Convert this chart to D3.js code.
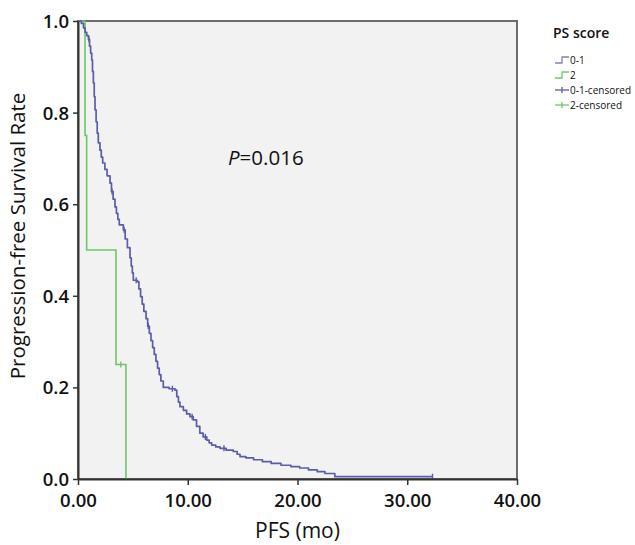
<!DOCTYPE html>
<html><head><meta charset="utf-8">
<script src="https://cdn.jsdelivr.net/npm/d3@7"></script>
<style>body{margin:0;background:#fff}svg{display:block}</style>
</head><body><svg id="c" width="635" height="545"></svg>
<script>
const xTicks = [0, 10, 20, 30, 40];
const yTicks = [0, 0.2, 0.4, 0.6, 0.8, 1.0];
const seriesNames = ["0-1", "2", "0-1-censored", "2-censored"];
// PS 0-1 Kaplan-Meier steps: time (mo), survival
const ps01Time = [0,0.3,0.5,0.65,0.8,0.95,1.05,1.15,1.25,1.32,1.4,1.48,1.55,1.65,1.75,1.85,2.0,2.12,2.25,2.45,2.65,2.92,3.05,3.2,3.37,3.5,3.63,3.76,4.13,4.3,4.5,4.74,4.85,4.95,5.04,5.4,5.55,5.7,5.85,6.0,6.2,6.35,6.5,6.65,6.8,6.95,7.1,7.25,7.4,7.55,7.77,8.3,8.84,9.0,9.15,9.29,9.6,9.9,10.2,10.5,10.8,11.1,11.4,11.73,11.95,12.18,12.55,12.94,13.5,14.15,14.5,14.76,15.3,16.0,16.8,17.6,18.5,19.4,20.2,21.0,21.8,22.5,23.4,32.3];
const ps01Surv = [1.0,0.995,0.985,0.975,0.968,0.96,0.945,0.93,0.915,0.89,0.865,0.835,0.806,0.78,0.755,0.734,0.718,0.703,0.69,0.676,0.662,0.646,0.628,0.611,0.594,0.58,0.567,0.555,0.544,0.524,0.505,0.483,0.465,0.45,0.434,0.431,0.415,0.398,0.382,0.366,0.35,0.334,0.318,0.302,0.287,0.272,0.257,0.242,0.228,0.214,0.2,0.197,0.194,0.18,0.168,0.158,0.15,0.142,0.136,0.129,0.115,0.1,0.092,0.085,0.079,0.074,0.07,0.067,0.063,0.06,0.054,0.049,0.046,0.042,0.038,0.034,0.03,0.027,0.024,0.02,0.016,0.012,0.005,0.005];
const ps01CensTime = [1.0, 3.1, 4.2, 5.3, 6.4, 8.6, 10.4, 11.6, 13.3, 32.3];
// PS 2
const ps2Time = [0, 0.64, 0.79, 3.46, 4.37];
const ps2Surv = [1.0, 0.75, 0.5, 0.25, 0.0];
const ps2CensTime = [3.9];
const pText = "=0.016";

const svg = d3.select("#c");
const M = {l:78, r:517, t:21, b:479};
const x = d3.scaleLinear().domain([0,40]).range([M.l, M.r]);
const y = d3.scaleLinear().domain([0,1]).range([M.b, M.t]);
const blue = "#5b5cae", green = "#6cc86c";
const font = "'Open Sans', 'Noto Sans', sans-serif";

svg.append("rect").attr("x",M.l).attr("y",M.t).attr("width",M.r-M.l).attr("height",M.b-M.t)
  .attr("fill","#f1f2f1").attr("stroke","#706b6b").attr("stroke-width",2);

function survAt(times, surv, t){ let s = surv[0]; for(let i=0;i<times.length;i++){ if(times[i]<=t) s=surv[i]; } return s; }

const line = d3.line().x(d=>x(d[0])).y(d=>y(d[1])).curve(d3.curveStepAfter);
const ps01 = ps01Time.map((t,i)=>[t, ps01Surv[i]]);
const ps2 = ps2Time.map((t,i)=>[t, ps2Surv[i]]);
svg.append("path").datum(ps2).attr("d",line).attr("fill","none").attr("stroke",green).attr("stroke-width",1.6);
svg.append("path").datum(ps01).attr("d",line).attr("fill","none").attr("stroke",blue).attr("stroke-width",1.7).attr("stroke-linejoin","round");

svg.selectAll(".c1").data(ps01CensTime).join("line")
  .attr("x1",d=>x(d)).attr("x2",d=>x(d))
  .attr("y1",d=>y(survAt(ps01Time,ps01Surv,d))-3).attr("y2",d=>y(survAt(ps01Time,ps01Surv,d))+3)
  .attr("stroke",blue).attr("stroke-width",1.4);
svg.selectAll(".c2").data(ps2CensTime).join("line")
  .attr("x1",d=>x(d)).attr("x2",d=>x(d))
  .attr("y1",d=>y(survAt(ps2Time,ps2Surv,d))-3).attr("y2",d=>y(survAt(ps2Time,ps2Surv,d))+3)
  .attr("stroke",green).attr("stroke-width",1.4);

// axes
const xa = svg.append("g").attr("transform",`translate(0,${M.b})`)
  .call(d3.axisBottom(x).tickValues(xTicks).tickFormat(d3.format(".2f")).tickSize(6).tickSizeOuter(0));
const ya = svg.append("g").attr("transform",`translate(${M.l},0)`)
  .call(d3.axisLeft(y).tickValues(yTicks).tickFormat(d3.format(".1f")).tickSize(5).tickSizeOuter(0));
[xa,ya].forEach(g=>{
  g.select(".domain").attr("stroke","#333").attr("stroke-width",2);
  g.selectAll(".tick line").attr("stroke","#333").attr("stroke-width",1.5);
  g.selectAll("text").attr("fill","#111").attr("font-family",font).attr("font-size",18.5).attr("font-weight",600);
});
xa.selectAll("text").attr("dy","1.0em");
ya.selectAll("text").attr("dx","-1px").attr("dy","0.35em");

svg.append("text").attr("x",(M.l+M.r)/2).attr("y",538).attr("text-anchor","middle")
  .attr("font-family",font).attr("font-size",21).attr("font-weight",500).attr("fill","#111").text("PFS (mo)");
svg.append("text").attr("transform",`translate(25,236) rotate(-90)`).attr("text-anchor","middle")
  .attr("font-family",font).attr("font-size",20.5).attr("font-weight",500).attr("fill","#111").text("Progression-free Survival Rate");

const pt = svg.append("text").attr("x",228).attr("y",165).attr("font-family",font).attr("font-size",20.5).attr("fill","#111");
pt.append("tspan").attr("font-style","italic").text("P");
pt.append("tspan").text(pText);

// legend
const lg = svg.append("g").attr("font-family",font);
lg.append("text").attr("x",553).attr("y",38).attr("font-size",14).attr("font-weight",600).attr("fill","#111").text("PS score");
const lcol = [blue, green, blue, green];
seriesNames.forEach((n,i)=>{
  const yy = 60 + i*15;
  const g = lg.append("g");
  if(i<2){
    g.append("path").attr("d",`M555,${yy+3}H562V${yy-3}H569`).attr("fill","none").attr("stroke",i===0?"#8a7fa8":green).attr("stroke-width",1.3);
  } else {
    g.append("line").attr("x1",555).attr("x2",569).attr("y1",yy).attr("y2",yy).attr("stroke",lcol[i]).attr("stroke-width",1.3);
    g.append("line").attr("x1",562).attr("x2",562).attr("y1",yy-3).attr("y2",yy+3).attr("stroke",lcol[i]).attr("stroke-width",1.3);
  }
  g.append("text").attr("x",570).attr("y",yy+3.5).attr("font-size",10).attr("font-weight",500).attr("fill","#111").text(n);
});
</script></body></html>
